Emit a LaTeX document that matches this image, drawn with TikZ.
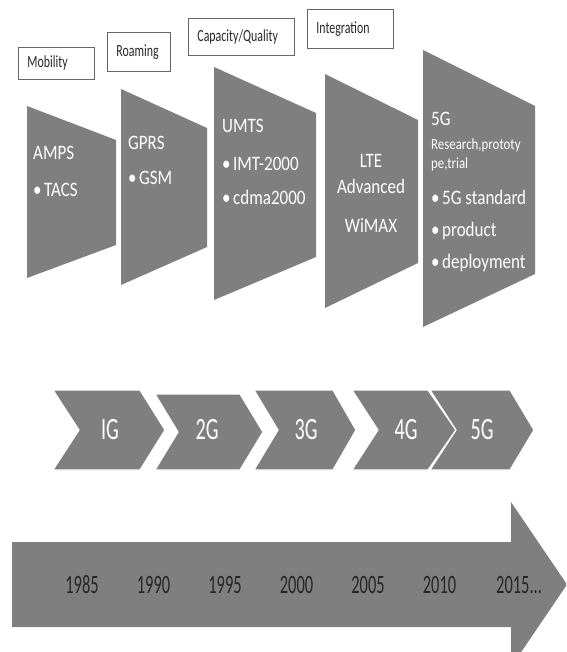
\documentclass[tikz,border=0pt]{standalone}
\usepackage{fontspec}
\setmainfont{Carlito}
\newfontfamily\trapfont[FakeStretch=0.83]{Carlito}
\newfontfamily\chevfont[FakeStretch=0.65]{Carlito}
\newfontfamily\yearfont[FakeStretch=0.62]{Carlito}
\newfontfamily\tagfont[FakeStretch=0.7]{Carlito}
\definecolor{shapegray}{RGB}{127,127,127}
\definecolor{darktext}{RGB}{38,38,38}
\newcommand{\bul}{\textbullet\hspace{2.5pt}}

\begin{document}
\begin{tikzpicture}[x=1pt, y=-1pt,
  stage/.style={fill=shapegray},
  gen/.style={fill=shapegray, draw=white, line width=1.2pt},
  goal/.style={draw=black!60, line width=0.9pt, anchor=north west, inner xsep=9pt, align=left, text=darktext, font=\tagfont\fontsize{17}{20}\selectfont},
  tech/.style={text=white, inner sep=0pt, anchor=north west, align=left, font=\trapfont\fontsize{20.5}{24}\selectfont},
  genlabel/.style={text=white, inner sep=0pt, font=\chevfont\fontsize{31}{36}\selectfont},
  yearlabel/.style={text=darktext, inner sep=0pt, anchor=base, font=\yearfont\fontsize{26.5}{30}\selectfont}]
  \useasboundingbox (0,0) rectangle (566,652);
  \clip (0,0) rectangle (566,652);

  \node[goal, text width=58pt, minimum height=32pt] (mobility) at (18,47) {Mobility};
  \node[goal, text width=45pt, minimum height=39pt] (roaming) at (107,32) {Roaming};
  \node[goal, text width=88pt, minimum height=37pt] (capacity) at (188,18) {Capacity/Quality};
  \node[goal, text width=68pt, minimum height=39pt] (integration) at (307,9) {Integration};

  \fill[stage] (27,106) -- (116,140) -- (116,245) -- (27,278) -- cycle;
  \fill[stage] (121,89) -- (207,128) -- (207,247) -- (121,285) -- cycle;
  \fill[stage] (214,67) -- (316,113) -- (316,257) -- (214,300) -- cycle;
  \fill[stage] (325,74) -- (418,120) -- (418,263) -- (325,308) -- cycle;
  \fill[stage] (423,50) -- (535,106) -- (535,274) -- (423,327) -- cycle;

  \node[tech] (amps) at (33,146) {AMPS\\[13pt]\bul TACS};
  \node[tech] (gprs) at (128,136) {GPRS\\[11pt]\bul GSM};
  \node[tech] (umts) at (222,119) {UMTS\\[14pt]\bul IMT-2000\\[10pt]\bul cdma2000};
  \node[tech, anchor=north, align=center] (lte) at (371,154) {LTE\\[2pt]Advanced\\[15pt]WiMAX};
  \node[tech] (fiveg) at (431,112) {5G\\{\fontsize{15.5}{18}\selectfont Research,prototy}\\[-5pt]{\fontsize{15.5}{18}\selectfont pe,trial}\\[11.7pt]\bul 5G standard\\[8pt]\bul product\\[8pt]\bul deployment};

  \draw[gen] (53,390) -- (140,390) -- (165,430) -- (140,470) -- (53,470) -- (79,430) -- cycle;
  \draw[gen] (155,394) -- (240,394) -- (263,432) -- (240,470) -- (155,470) -- (178,432) -- cycle;
  \draw[gen] (254,390) -- (333,390) -- (356,430) -- (333,470) -- (254,470) -- (278,430) -- cycle;
  \draw[gen] (352,390) -- (428,390) -- (456,430) -- (428,470) -- (352,470) -- (378,430) -- cycle;
  \draw[gen] (430,390) -- (510,390) -- (534,430) -- (510,470) -- (430,470) -- (456,430) -- cycle;
  \foreach \g/\x in {IG/110, 2G/207, 3G/306, 4G/406, 5G/482}
    \node[genlabel] (gen\g) at (\x,430) {\g};

  \fill[stage] (12,542) -- (511,542) -- (511,502) -- (567,584.5) -- (511,667) -- (511,627) -- (12,627) -- cycle;
  \foreach \yr [count=\i from 0] in {1985,1990,...,2010}
    \node[yearlabel] (y\yr) at (82+71.5*\i,593) {\yr};
  \node[yearlabel, anchor=base west] (y2015) at (496,593) {2015...};
\end{tikzpicture}
\end{document}
